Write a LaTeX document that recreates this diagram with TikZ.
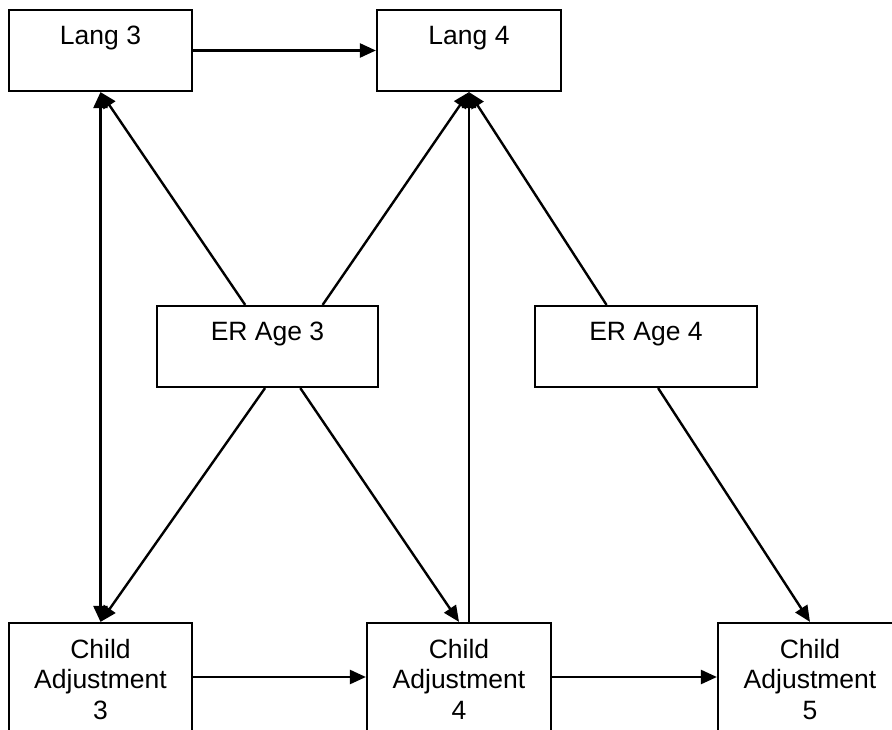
\documentclass[tikz,border=0pt]{standalone}
\usepackage{fontspec}
\setmainfont{Liberation Sans}
\usetikzlibrary{arrows.meta,calc}
\begin{document}
\begin{tikzpicture}[x=1pt,y=-1pt,
  >={Triangle[length=16pt,width=14pt]},
  box/.style={draw,line width=2.2pt,rectangle,inner sep=0pt,minimum height=81pt},
  lbl/.style={anchor=north,inner sep=0pt,align=center,font=\fontsize{26.5}{30.5}\selectfont},
  link/.style={line width=2.4pt,->},
]
\clip (0,0) rectangle (892,730);

% language boxes
\node[box,minimum width=183pt] (l3) at (100.5,50.5) {};
\node[box,minimum width=184pt] (l4) at (469,50.5) {};
% emotion regulation boxes
\node[box,minimum width=221pt] (e3) at (267.5,346.5) {};
\node[box,minimum width=222pt] (e4) at (646,346.5) {};
% child adjustment boxes (run past the lower edge)
\node[box,minimum width=183pt,minimum height=108pt] (c3) at (100.5,677) {};
\node[box,minimum width=184pt,minimum height=108pt] (c4) at (459,677) {};
\node[box,minimum width=184pt,minimum height=108pt] (c5) at (810,677) {};

% labels
\node[lbl] (l3t) at ($(l3.north)+(0,17)$) {Lang 3};
\node[lbl] (l4t) at ($(l4.north)+(0,17)$) {Lang 4};
\node[lbl] (e3t) at ($(e3.north)+(0,17)$) {ER Age 3};
\node[lbl] (e4t) at ($(e4.north)+(0,17)$) {ER Age 4};
\node[lbl] (c3t) at ($(c3.north)+(0,17)$) {Child\\Adjustment\\3};
\node[lbl] (c4t) at ($(c4.north)+(0,17)$) {Child\\Adjustment\\4};
\node[lbl] (c5t) at ($(c5.north)+(0,17)$) {Child\\Adjustment\\5};

% horizontal paths
\draw[link] (l3.east) -- (l4.west);
\draw[link] (c3.east) -- (c4.west);
\draw[link] (c4.east) -- (c5.west);

% Lang 3 <-> Child Adjustment 3
\draw[link,<->] (l3.south) -- (l3.south |- c3.north);

% from ER Age 3
\draw[link] ($(e3.north west)!0.40!(e3.north east)$) -- (l3.south);
\draw[link] ($(e3.north west)!0.747!(e3.north east)$) -- (l4.south);
\draw[link] ($(e3.south west)!0.489!(e3.south east)$) -- (c3.north);
\draw[link] ($(e3.south west)!0.647!(e3.south east)$) -- (c4.north);

% Child Adjustment 4 -> Lang 4
\draw[link] (l4.south |- c4.north) -- (l4.south);

% from ER Age 4
\draw[link] ($(e4.north west)!0.324!(e4.north east)$) -- (l4.south);
\draw[link] ($(e4.south west)!0.554!(e4.south east)$) -- (c5.north);
\end{tikzpicture}
\end{document}
